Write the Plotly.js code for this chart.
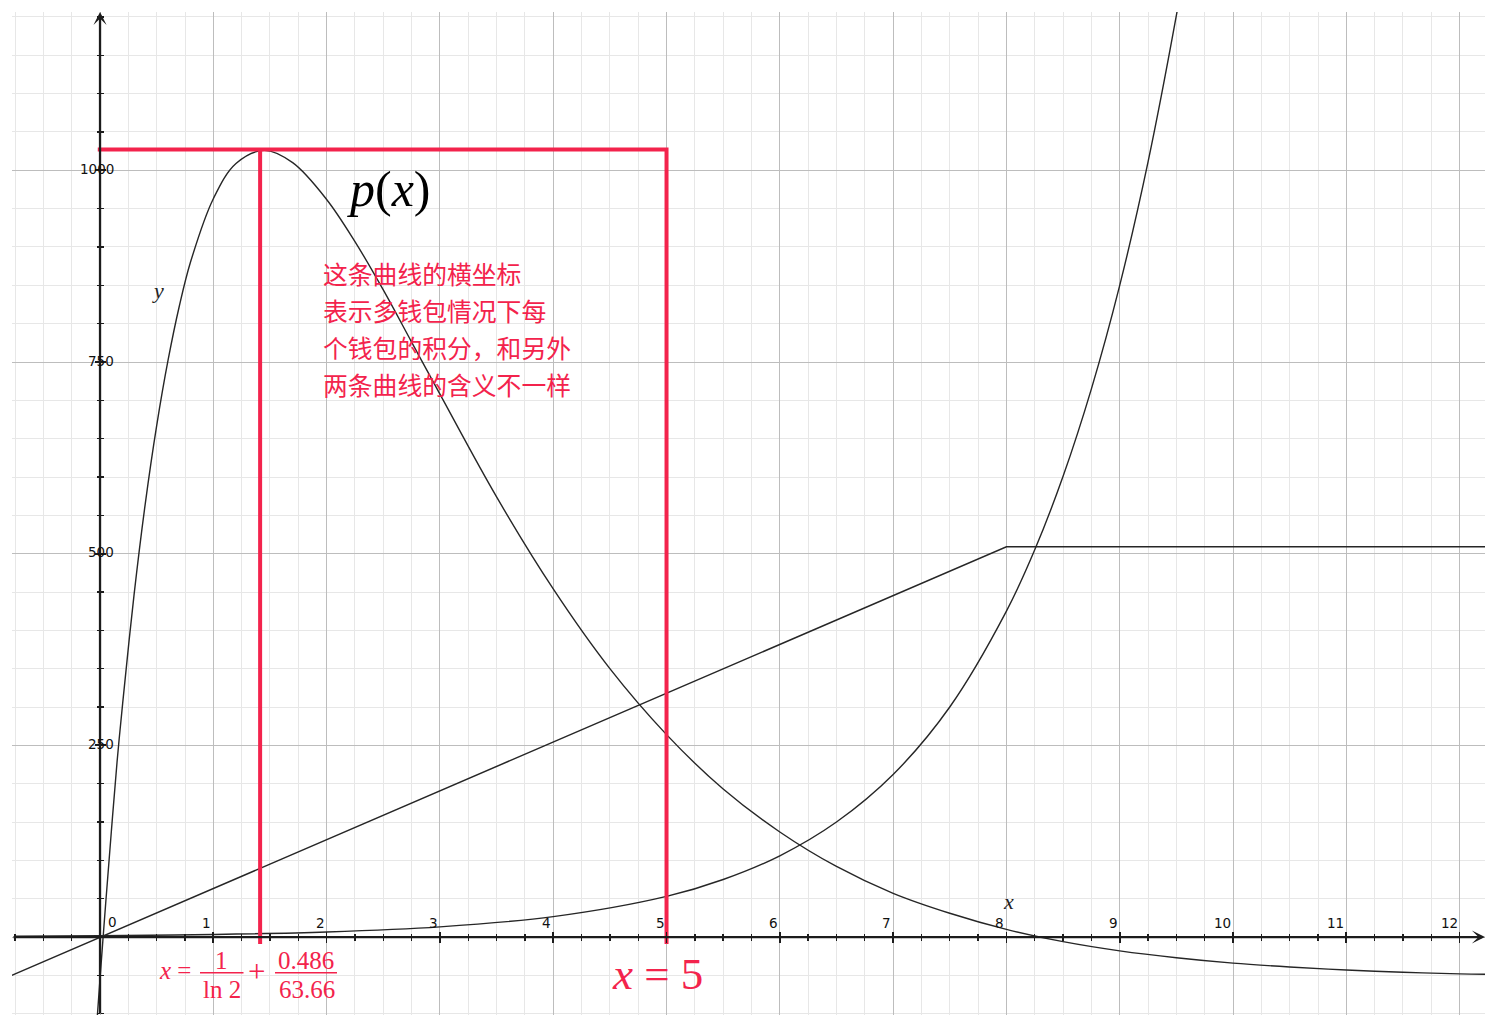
<!DOCTYPE html>
<html>
<head>
<meta charset="utf-8">
<script src="https://cdn.plot.ly/plotly-3.0.1.min.js"></script>
<style>html,body{margin:0;padding:0;background:#fff;}#chart{width:1497px;height:1029px;}</style>
</head>
<body>
<div id="chart"></div>
<script>
// ---- data ----
const pX = [-0.03, 0, 0.05, 0.1, 0.15, 0.2, 0.3, 0.4, 0.5, 0.6, 0.7, 0.8, 1.0, 1.2, 1.45, 1.7, 2.0, 2.25, 2.5, 2.75, 3.0, 3.5, 4.0, 4.5, 5.0, 5.5, 6.0, 6.5, 7.0, 7.5, 8.0, 8.5, 9.0, 9.5, 10, 10.5, 11, 11.5, 12, 12.25];
const pY = [-116, -54, 44, 138, 228, 305, 446, 566, 667, 752, 823, 881, 963, 1009, 1026, 1010, 962, 907, 844, 776, 708, 574, 454, 350, 264, 193, 137, 92, 57, 31, 10, -6, -18, -27, -34, -39, -43, -46, -48, -48.5];

const lineX = [-0.78, 8, 12.25];
const lineY = [-50, 509, 509];

const expX = [-0.75, 0, 1, 2, 3, 4, 5, 5.5, 6, 6.5, 7, 7.5, 8, 8.25, 8.5, 8.75, 9, 9.25, 9.5, 9.6];
const expY = [1, 1.7, 3.3, 6.6, 13.3, 26.6, 53, 75, 106, 150, 212, 300, 425, 505, 601, 715, 850, 1011, 1202, 1288];

const peakX = 1.413;     // left red marker
const markX = 5;         // right red marker
const peakY = 1027;      // red horizontal level
const redBottom = -9;

const xTickVals = [1,2,3,4,5,6,7,8,9,10,11,12];
const xTickText = ['1','2','3','4','5','6','7','8','9','10','11','12'];
const yTickVals = [250, 500, 750, 1000];
const yTickText = ['250','500','750','1000'];

const noteLines = ['这条曲线的横坐标', '表示多钱包情况下每', '个钱包的积分，和另外', '两条曲线的含义不一样'];

// ---- layout geometry ----
const W = 1497, H = 1029;
const M = {l: 12, r: 12, t: 12, b: 14, pad: 0};
const xR = [-0.777, 12.224];
const yR = [-101.7, 1206.5];
const plotW = W - M.l - M.r, plotH = H - M.t - M.b;
const X = px => xR[0] + (px - M.l) / plotW * (xR[1] - xR[0]);
const Y = py => yR[1] - (py - M.t) / plotH * (yR[1] - yR[0]);
const xAxisPos = (0 - yR[0]) / (yR[1] - yR[0]);
const yAxisPos = (0 - xR[0]) / (xR[1] - xR[0]);

const RED = '#f3234c';
const INK = '#1c1c1c';
const CURVE = '#262626';

const traces = [
  {x: pX, y: pY, mode: 'lines', line: {color: CURVE, width: 1.4, shape: 'spline', smoothing: 1}, hoverinfo: 'skip'},
  {x: lineX, y: lineY, mode: 'lines', line: {color: CURVE, width: 1.5}, hoverinfo: 'skip'},
  {x: expX, y: expY, mode: 'lines', line: {color: CURVE, width: 1.4, shape: 'spline', smoothing: 1}, hoverinfo: 'skip'},
  {x: [-0.02, markX, markX, null, peakX, peakX], y: [peakY, peakY, redBottom, null, peakY, redBottom],
   mode: 'lines', line: {color: RED, width: 4}, hoverinfo: 'skip'},
  {x: [null], y: [null], xaxis: 'x2', yaxis: 'y', hoverinfo: 'skip'},
  {x: [null], y: [null], xaxis: 'x3', yaxis: 'y', hoverinfo: 'skip'},
  {x: [null], y: [null], xaxis: 'x', yaxis: 'y2', hoverinfo: 'skip'},
  {x: [null], y: [null], xaxis: 'x', yaxis: 'y3', hoverinfo: 'skip'}
];

const tickAxisX = dir => ({
  overlaying: 'x', anchor: 'free', position: xAxisPos, range: xR,
  tick0: 0, dtick: 1, ticks: dir, ticklen: 5, tickwidth: 1.7, tickcolor: INK,
  minor: {ticks: dir, tick0: 0, dtick: 0.25, ticklen: 3, tickwidth: 1.4, tickcolor: INK, showgrid: false},
  showgrid: false, zeroline: false, showline: false, showticklabels: false, fixedrange: true
});
const tickAxisY = dir => ({
  overlaying: 'y', anchor: 'free', position: yAxisPos, range: yR,
  tick0: 0, dtick: 250, ticks: dir, ticklen: 5, tickwidth: 1.7, tickcolor: INK,
  minor: {ticks: dir, tick0: 0, dtick: 50, ticklen: 3, tickwidth: 1.4, tickcolor: INK, showgrid: false},
  showgrid: false, zeroline: false, showline: false, showticklabels: false, fixedrange: true
});

const tickFont = {family: 'DejaVu Sans, Liberation Sans, sans-serif', size: 13.5, color: '#111'};
const serif = 'Liberation Serif, DejaVu Serif, serif';

const ann = [];
// axes with arrowheads
ann.push({x: X(1485), y: 0, ax: xR[0], ay: 0, axref: 'x', ayref: 'y', xref: 'x', yref: 'y', text: '',
  showarrow: true, arrowhead: 3, arrowsize: 0.95, arrowwidth: 2.3, arrowcolor: INK, standoff: 0, startstandoff: 0});
ann.push({x: 0, y: Y(12), ax: 0, ay: yR[0], axref: 'x', ayref: 'y', xref: 'x', yref: 'y', text: '',
  showarrow: true, arrowhead: 3, arrowsize: 0.95, arrowwidth: 2.3, arrowcolor: INK, standoff: 0, startstandoff: 0});
// tick labels
xTickVals.forEach((v, i) => ann.push({x: v, y: 0, xref: 'x', yref: 'y', text: xTickText[i], showarrow: false,
  xanchor: 'right', yanchor: 'middle', xshift: 0, yshift: 14, font: tickFont}));
ann.push({x: 0, y: 0, xref: 'x', yref: 'y', text: '0', showarrow: false, xanchor: 'left', yanchor: 'middle',
  xshift: 6, yshift: 15, font: tickFont});
yTickVals.forEach((v, i) => ann.push({x: 0, y: v, xref: 'x', yref: 'y', text: yTickText[i], showarrow: false,
  xanchor: 'right', yanchor: 'middle', xshift: 16, yshift: 1.5, font: tickFont}));
// axis names
ann.push({x: X(158), y: Y(290), xref: 'x', yref: 'y', text: '<i>y</i>', showarrow: false,
  font: {family: serif, size: 22, color: '#222'}});
ann.push({x: X(1008), y: Y(901), xref: 'x', yref: 'y', text: '<i>x</i>', showarrow: false,
  font: {family: serif, size: 22, color: '#222'}});
// p(x)
ann.push({x: X(389), y: Y(189), xref: 'x', yref: 'y', text: '<i>p</i>(<i>x</i>)', showarrow: false,
  font: {family: serif, size: 50, color: '#000'}});
// Chinese note
const noteTop = [273, 310, 347, 384];
noteLines.forEach((t, i) => ann.push({x: X(321), y: Y(noteTop[i]), xref: 'x', yref: 'y', text: t, showarrow: false,
  xanchor: 'left', yanchor: 'middle', font: {family: 'Noto Sans CJK SC, sans-serif', size: 24.8, color: RED}}));
// x = 5
ann.push({x: X(657), y: Y(974), xref: 'x', yref: 'y', text: '<i>x</i> = 5', showarrow: false,
  font: {family: serif, size: 45, color: RED}});
// formula x = 1/ln2 + 0.486/63.66
const fF = {family: serif, size: 25, color: RED};
const fPart = (px, py, t, f) => ann.push({x: X(px), y: Y(py), xref: 'x', yref: 'y', text: t, showarrow: false, font: f || fF});
fPart(175, 970, '<i>x</i> =');
fPart(221.5, 960, '1');
fPart(221.7, 989, 'ln 2');
fPart(256.7, 971, '+', {family: serif, size: 31, color: RED});
fPart(305.8, 960, '0.486');
fPart(306.7, 989, '63.66');

const shapes = [
  {type: 'line', xref: 'x', yref: 'y', x0: X(200), x1: X(243.5), y0: Y(972.7), y1: Y(972.7), line: {color: RED, width: 1.4}},
  {type: 'line', xref: 'x', yref: 'y', x0: X(275), x1: X(337), y0: Y(972.7), y1: Y(972.7), line: {color: RED, width: 1.4}}
];

const layout = {
  width: W, height: H, margin: M, showlegend: false,
  paper_bgcolor: '#fff', plot_bgcolor: '#fff',
  xaxis: {range: xR, tick0: 0, dtick: 1, showgrid: true, gridcolor: '#bdbdbd', gridwidth: 1,
    minor: {tick0: 0, dtick: 0.25, showgrid: true, gridcolor: '#e7e7e7', gridwidth: 1},
    zeroline: false, showline: false, showticklabels: false, ticks: '', fixedrange: true},
  yaxis: {range: yR, tick0: 0, dtick: 250, showgrid: true, gridcolor: '#bdbdbd', gridwidth: 1,
    minor: {tick0: 0, dtick: 50, showgrid: true, gridcolor: '#e7e7e7', gridwidth: 1},
    zeroline: false, showline: false, showticklabels: false, ticks: '', fixedrange: true},
  xaxis2: tickAxisX('outside'),
  xaxis3: tickAxisX('inside'),
  yaxis2: tickAxisY('outside'),
  yaxis3: tickAxisY('inside'),
  annotations: ann,
  shapes: shapes
};

Plotly.newPlot('chart', traces, layout, {displayModeBar: false, staticPlot: true});
</script>
</body>
</html>
